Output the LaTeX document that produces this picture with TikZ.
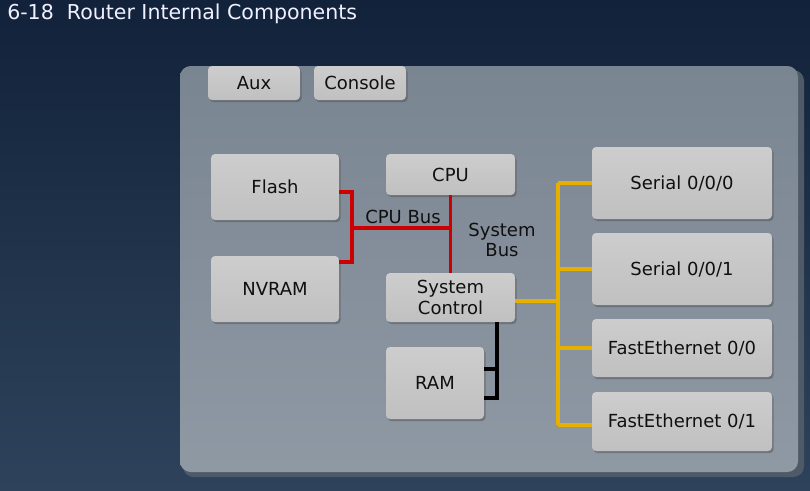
\documentclass[tikz,border=0pt]{standalone}
\usepackage{fontspec}
\setmainfont{DejaVu Sans}
\usetikzlibrary{calc,shadows}
\definecolor{bgtop}{HTML}{11223A}
\definecolor{bgbot}{HTML}{2E435B}
\definecolor{paneltop}{HTML}{7A8592}
\definecolor{panelbot}{HTML}{8F99A4}
\definecolor{panelshadow}{HTML}{4E5A68}
\definecolor{boxtop}{HTML}{CDCDCD}
\definecolor{boxbot}{HTML}{C0C0C0}
\definecolor{txt}{HTML}{101010}
\definecolor{busred}{HTML}{CC0000}
\definecolor{busyellow}{HTML}{E6B000}
\tikzset{
  compbox/.style={rectangle, rounded corners=3pt, top color=boxtop, bottom color=boxbot,
    draw=none, text=txt, font=\fontsize{13.5}{15.6}\selectfont, align=center, inner sep=0pt,
    drop shadow={shadow xshift=1.2pt, shadow yshift=-1.6pt, opacity=0.45, fill=black!70}},
  lbl/.style={text=txt, font=\fontsize{13.5}{15.6}\selectfont, align=center, inner sep=0pt},
  redbus/.style={draw=busred, line width=2.3pt},
  yellowbus/.style={draw=busyellow, line width=2.3pt},
  blackbus/.style={draw=black, line width=2.3pt},
}
\begin{document}
\begin{tikzpicture}[x=0.75pt,y=-0.75pt]
\useasboundingbox (0,0) rectangle (810,490);
% background
\shade[top color=bgtop, bottom color=bgbot] (0,0) rectangle (810,490);
% title
\node[anchor=base west, text=white!94!blue, font=\fontsize{15.4}{17}\selectfont, inner sep=0pt] (title) at (7,19) {6-18\ \ Router Internal Components};
% panel
\fill[panelshadow, rounded corners=8pt] (183,70) rectangle (804,477);
\shade[top color=paneltop, bottom color=panelbot, rounded corners=8pt] (180,66) rectangle (798,472);
% boxes
\node[compbox, minimum width=69pt, minimum height=25.5pt] (aux) at (254,83) {Aux};
\node[compbox, minimum width=69pt, minimum height=25.5pt] (console) at (360,83) {Console};
\node[compbox, minimum width=96pt, minimum height=49.5pt] (flash) at (275,187) {Flash};
\node[compbox, minimum width=96pt, minimum height=49.5pt] (nvram) at (275,289) {NVRAM};
\node[compbox, minimum width=96.75pt, minimum height=30.75pt] (cpu) at (450.5,174.5) {CPU};
\node[compbox, minimum width=96.75pt, minimum height=36.75pt] (sysctl) at (450.5,297.5) {System\\Control};
\node[compbox, minimum width=73.5pt, minimum height=54pt] (ram) at (435,383) {RAM};
\node[compbox, minimum width=135pt, minimum height=54pt] (s0) at (682,183) {Serial 0/0/0};
\node[compbox, minimum width=135pt, minimum height=54pt] (s1) at (682,269) {Serial 0/0/1};
\node[compbox, minimum width=135pt, minimum height=43.5pt] (fe0) at (682,348) {FastEthernet 0/0};
\node[compbox, minimum width=135pt, minimum height=44.25pt] (fe1) at (682,421.5) {FastEthernet 0/1};
% junction coordinates
\coordinate (jr) at (352,228);
\coordinate (jy) at (558,301);
\coordinate (kb) at (497,398);
\coordinate (km) at (497,369);
% red CPU bus
\draw[redbus] ($(flash.east)+(0,5)$) -| (jr);
\draw[redbus] ($(nvram.east)+(0,-27)$) -| (jr);
\draw[redbus] (jr) -- (cpu.south |- jr);
\draw[redbus] (cpu.south) -- (sysctl.north);
% yellow system bus
\draw[yellowbus] (sysctl.east |- jy) -- (jy);
\draw[yellowbus] (s0.west -| jy) -- ($(fe1.west -| jy)+(0,3.5)$);
\draw[yellowbus] (s0.west -| jy) -- (s0.west);
\draw[yellowbus] (s1.west -| jy) -- (s1.west);
\draw[yellowbus] (fe0.west -| jy) -- (fe0.west);
\draw[yellowbus] ($(fe1.west -| jy)+(0,3.5)$) -- ($(fe1.west)+(0,3.5)$);
% black memory bus
\draw[blackbus] (sysctl.south -| kb) -- (kb) -- (ram.east |- kb);
\draw[blackbus] (ram.east |- km) -- (km);
% labels
\node[lbl] (cpubus) at (403,217) {CPU Bus};
\node[lbl] (sysbus) at (502,240) {System\\Bus};
\end{tikzpicture}
\end{document}
